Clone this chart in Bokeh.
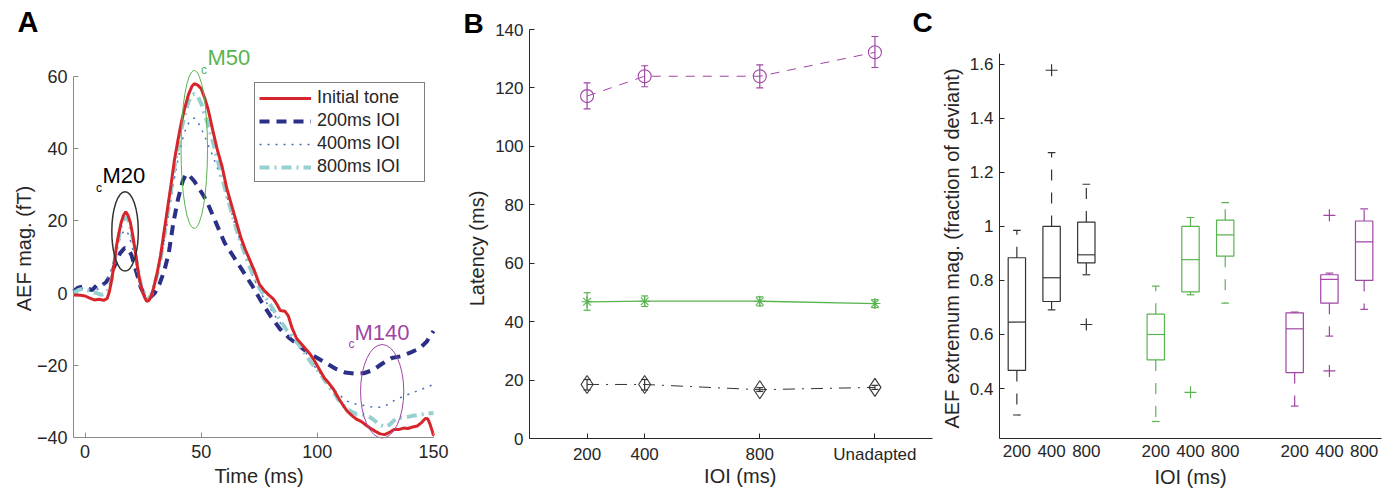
import math
from bokeh.plotting import figure
from bokeh.layouts import row
from bokeh.models import (Range1d, FixedTicker, Label, Legend, LegendItem,
                          Whisker, TeeHead, ColumnDataSource)
from bokeh.embed import file_html
from bokeh.resources import INLINE

FONT = "Liberation Sans"
TXT = "#262626"

# ---------------- Panel A data: AEF waveforms ----------------
t_initial = [-5, -2, 0, 2, 4, 6, 8, 9.5, 10.5, 11.5, 12.5, 13.5, 14.5, 15.5, 16.5, 17.5, 18.5, 19.5, 20.5, 21.5,
             22.5, 23.5, 24.5, 25.5, 26.5, 27.5, 28.5, 29.5, 31, 32.5, 34, 35.5, 37, 38.5, 40, 41.5, 43, 44.5, 46,
             47, 48.5, 50, 51.5, 53, 55, 57, 59, 61, 63, 65, 67, 69, 71, 73, 75, 77, 79, 81, 82.5, 84, 86, 87.5,
             89, 91, 93, 95, 97, 99, 101, 103, 105, 107, 109, 111, 113, 115, 117, 119, 121, 123, 125, 127, 129,
             131, 133, 135, 137, 139, 141, 143, 145, 146.5, 147.5, 148.5, 149.5, 150]
v_initial = [-0.5, -0.6, -0.8, -1.4, -1.9, -1.7, -2.0, -1.5, 0.5, 4, 8, 13, 16.5, 19.5, 21.5, 22.5, 21.5, 19.5, 16, 12,
             7.5, 3.5, 0.8, -1, -2.3, -2.0, -0.8, 1.5, 5.5, 10.5, 17, 23.5, 30, 37, 42.5, 47.5, 51.5, 55, 57.3,
             58, 57.6, 56.6, 54, 50.8, 45, 39.5, 35, 29, 24.5, 20, 15.5, 12, 9, 6, 2.5, 0.8, -0.5, -1.6, -3, -4.8, -5, -6.3,
             -9.5, -12.5, -14, -15.5, -17, -19, -21.3, -23.5, -25, -26.7, -29, -31, -32.8, -34, -35, -35.6, -36.6, -37.5, -38.3, -39, -39.2,
             -38.6, -37.8, -37.8, -37.4, -37.5, -37.1, -36.8, -35.8, -34.7, -34.8, -36.3, -38.3, -39.5]

t_200 = [-5, -3, -1, 1, 3, 5, 7, 9, 11, 13, 15, 17, 18.5, 20, 22, 24, 26, 28, 30, 32,
         34, 36, 38, 40, 42, 43.5, 45, 47, 49, 51, 53, 56, 60, 64, 68, 72, 76, 80, 84, 88,
         92, 96, 100, 104, 108, 112, 116, 120, 124, 128, 132, 136, 140, 144, 147, 150]
v_200 = [0.5, 1.5, 1.8, 1.2, 0.8, 2.2, 2, 3, 5, 8, 11, 12.5, 12.3, 10.5, 6, 1.5, -1, -1.2, 0, 2.5,
         6, 11, 19.5, 26, 31, 33, 32.5, 31, 29, 27, 24.5, 20, 14, 10, 6, 2, -2.5, -6.5, -10, -12.5,
         -14.5, -16.5, -18, -19.5, -21, -22, -22.3, -22.2, -21.3, -19.5, -18, -17.5, -16.5, -15.3, -13.5, -10.5]

t_400 = [-5, -3, 0, 3, 5, 7, 9, 11, 12.5, 14, 15.5, 17, 18.5, 20, 21.5, 23, 24.5, 26, 27.5, 29, 30.5, 32,
         33.5, 35, 36.5, 38, 39.5, 41, 42.5, 44, 45.5, 47, 48.5, 50, 51.5, 53,
         55, 57, 59, 61, 63, 65, 67, 69, 71, 73, 75, 77, 79, 81, 83, 85, 87, 89, 91, 93, 95, 97, 99,
         101, 103, 105, 107, 109, 111, 113, 115, 117, 119, 121, 123, 125, 127, 129, 131, 133, 135, 137,
         139, 141, 143, 145, 147, 150]
v_400 = [0.5, 1, 1.5, 1.5, 1, 1.5, 3, 6, 9.5, 13, 16, 17.5, 16.5, 13.5, 9.5, 5, 1.5, -0.8, -1.2, 0.5, 3.5, 7.5,
         12.5, 18, 24, 30, 35.5, 40, 44, 46.5, 48, 48.5, 47.5, 45.5, 43.5, 41,
         38, 34.5, 31, 27, 22.5, 18, 14, 10, 6.5, 3.5, 1, -1.5, -3.5, -5.5, -7.5, -9, -10.5, -12, -13.5, -15, -16.5, -18.5, -20.5,
         -22, -23.5, -25, -26.5, -28, -29, -30, -30.5, -30.8, -31, -31.2, -31.5, -31.6, -31.6, -31.3, -30.6, -29.8, -29.2, -28.6,
         -28.1, -27.6, -27.1, -26.6, -26.1, -25.3]

t_800 = [-5, -3, -1, 1, 3, 5, 7, 9, 10.5, 11.5, 12.5, 13.5, 14.5, 15.5, 16.5, 17.5, 18.5, 19.5, 20.5, 21.5,
         22.5, 23.5, 24.5, 25.5, 26.5, 27.5, 28.5, 29.5, 31, 32.5, 34, 35.5, 37, 38.5, 40, 41.5, 43, 44.5, 46,
         47, 48.5, 50, 51.5, 53, 55, 57, 59, 61, 63, 65, 67, 69, 71, 73, 75, 77, 79, 81, 83, 85, 87, 89, 91, 93,
         95, 97, 99, 101, 103, 105, 107, 109, 111, 113, 115, 117, 119, 121, 123, 125, 127, 129, 131, 133, 135,
         137, 139, 141, 143, 145, 147, 150]
v_800 = [0, 0.8, 1.2, 0.8, 0.2, 0, -0.5, 0, 1.5, 4, 8, 12, 15.5, 18.5, 20.3, 21, 20.3, 18.5, 15, 11.5,
         7.5, 3.8, 1, -0.5, -1.5, -1.5, -0.5, 1.5, 5, 9.5, 15.5, 22, 28.5, 35, 40.5, 45.5, 49.5, 53, 54.8,
         55.2, 54.5, 52.5, 49.5, 46.5, 42, 37, 32, 27, 22.5, 18, 14, 10.5, 7, 4, 1.5, -0.5, -2.5, -4.5, -6.5, -8.5, -10.5, -12, -13.5, -15,
         -17, -19, -20.5, -22, -24, -26, -27.5, -29.5, -31, -32.2, -33, -33.5, -33.5, -34, -34.5, -35.5, -36.5, -37, -36.5, -35.3, -34.5,
         -34.5, -34.3, -34, -33.8, -33.6, -33.4, -33.2]

# peak annotation ellipses (centre time, centre value, width ms, height fT)
peak_names = ["M20", "M50", "M140"]
peak_t = [17.2, 47.0, 127.9]
peak_v = [17.1, 39.8, -27.2]
peak_w = [11.4, 11.4, 18.6]
peak_h = [22.0, 43.7, 25.9]

# ---------------- Panel B data: latencies ----------------
ioi_x = [200, 400, 800, 1200]
ioi_labels = ["200", "400", "800", "Unadapted"]
lat_m140 = [117.2, 124.0, 124.0, 132.2]
lat_m140_lo = [112.8, 120.4, 120.0, 127.0]
lat_m140_hi = [121.7, 127.6, 127.9, 137.6]
lat_m50 = [46.8, 47.0, 47.0, 46.2]
lat_m50_lo = [43.9, 45.2, 45.4, 44.8]
lat_m50_hi = [49.9, 48.8, 48.5, 47.5]
lat_m20 = [18.5, 18.5, 16.7, 17.5]
lat_m20_lo = [16.6, 16.6, 16.1, 16.8]
lat_m20_hi = [20.2, 20.2, 17.4, 18.2]

# ---------------- Panel C data: box plots ----------------
box_x = [1, 2, 3, 5, 6, 7, 9, 10, 11]
box_labels = ["200", "400", "800", "200", "400", "800", "200", "400", "800"]
box_group = ["M20", "M20", "M20", "M50", "M50", "M50", "M140", "M140", "M140"]
box_q1 = [0.467, 0.722, 0.865, 0.506, 0.758, 0.890, 0.459, 0.716, 0.800]
box_med = [0.646, 0.810, 0.895, 0.600, 0.877, 0.969, 0.621, 0.804, 0.943]
box_q3 = [0.884, 1.000, 1.016, 0.675, 1.000, 1.023, 0.680, 0.821, 1.020]
box_lo = [0.302, 0.691, 0.821, 0.278, 0.747, 0.716, 0.335, 0.594, 0.693]
box_hi = [0.985, 1.273, 1.156, 0.779, 1.033, 1.088, 0.683, 0.827, 1.065]
out_x = [2, 3, 6, 10, 10]
out_y = [1.578, 0.637, 0.386, 1.041, 0.465]
out_group = ["M20", "M20", "M50", "M140", "M140"]

# ---------------- styles ----------------
RED = "#d7262b"
NAVY = "#2b2f86"
DOTBLUE = "#4a6cbc"
CYAN = "#96d0d0"
GREEN = "#58b44f"
PURPLE = "#a045a4"
DARK = "#333333"
group_color = {"M20": DARK, "M50": GREEN, "M140": PURPLE}

H = 488  # canvas height (page has no margin)


class Panel:
    """Pixel calibration of a panel: page pixel <-> data value (frame covers whole canvas)."""

    def __init__(self, fig_left, fig_width, ax_left_px, ax_bottom_px, x0, y0, sx, sy):
        self.fig_left, self.fig_width = fig_left, fig_width
        self.ax_left_px, self.ax_bottom_px = ax_left_px, ax_bottom_px
        self.x0, self.y0, self.sx, self.sy = x0, y0, sx, sy

    def xy(self, px, py):
        return (self.x0 + (px - self.ax_left_px) / self.sx,
                self.y0 + (self.ax_bottom_px - py) / self.sy)

    def x_range(self):
        a, _ = self.xy(self.fig_left, 0)
        b, _ = self.xy(self.fig_left + self.fig_width, 0)
        return Range1d(a, b)

    def y_range(self):
        _, a = self.xy(0, H)
        _, b = self.xy(0, 0)
        return Range1d(a, b)

    def figure(self):
        return figure(width=self.fig_width, height=H, output_backend="svg", toolbar_location=None,
                      x_range=self.x_range(), y_range=self.y_range(), min_border=0)


def add_text(p, xy, text, size, color=TXT, align="left", angle=0.0, bold=False):
    # xy is the middle of the text's cap height
    x, y = xy
    p.add_layout(Label(x=x, y=y, text=text, text_font=FONT, text_font_size=f"{size}px",
                       text_color=color, text_align=align, text_baseline="middle", angle=angle,
                       text_font_style="bold" if bold else "normal"))


def style_axes(p, tick_size, xb, yb, axis_color=TXT):
    p.grid.visible = False
    p.outline_line_color = None
    p.background_fill_color = "white"
    p.border_fill_color = "white"
    xa, ya = p.xaxis[0], p.yaxis[0]
    xa.bounds, ya.bounds = xb, yb
    xa.fixed_location = yb[0]
    ya.fixed_location = xb[0]
    for ax in (xa, ya):
        ax.axis_line_color = axis_color
        ax.major_tick_line_color = axis_color
        ax.minor_tick_line_color = None
        ax.major_tick_in = 5
        ax.major_tick_out = 0
        ax.major_label_text_font = FONT
        ax.major_label_text_font_size = f"{tick_size}px"
        ax.major_label_text_color = TXT
        ax.major_label_standoff = 6


# ================= Panel A =================
A = Panel(0, 460, 73, 437, -5, -40, 360 / 155, 3.61)
pA = A.figure()
style_axes(pA, 18, (-5, 150), (-40, 60), axis_color="#8a8a8a")
pA.yaxis[0].ticker = FixedTicker(ticks=[-40, -20, 0, 20, 40, 60])
pA.yaxis[0].major_label_overrides = {-40: "\u221240", -20: "\u221220", 0: "0", 20: "20", 40: "40", 60: "60"}
pA.xaxis[0].ticker = FixedTicker(ticks=[0, 50, 100, 150])
pA.xaxis[0].major_label_standoff = 7

r200 = pA.line(t_200, v_200, line_color=NAVY, line_width=4, line_dash="10 7")
r400 = pA.line(t_400, v_400, line_color=DOTBLUE, line_width=1.5, line_dash="2 6")
r800 = pA.line(t_800, v_800, line_color=CYAN, line_width=4, line_dash="10 5 2 5")
rinit = pA.line(t_initial, v_initial, line_color=RED, line_width=3)

ell_colors = [DARK, GREEN, PURPLE]
ell_widths = [1.5, 1, 1]
pA.ellipse(x=peak_t, y=peak_v, width=peak_w, height=peak_h, fill_color=None,
           line_color=ell_colors, line_width=ell_widths)

legend = Legend(items=[LegendItem(label="Initial tone", renderers=[rinit]),
                       LegendItem(label="200ms IOI", renderers=[r200]),
                       LegendItem(label="400ms IOI", renderers=[r400]),
                       LegendItem(label="800ms IOI", renderers=[r800])],
                location=(254 - A.fig_left, H - 182), padding=4, spacing=2, margin=0,
                glyph_width=52, glyph_height=20, label_height=20, label_width=103, label_standoff=6,
                label_text_font=FONT, label_text_font_size="18px", label_text_color=TXT,
                border_line_color="black", border_line_width=1, background_fill_color="white",
                background_fill_alpha=1)
pA.add_layout(legend)

add_text(pA, A.xy(17, 21), "A", 29, color="black", bold=True)
add_text(pA, A.xy(23, 248), "AEF mag. (fT)", 20, align="center", angle=math.pi / 2)
add_text(pA, A.xy(258.5, 475.5), "Time (ms)", 20, align="center")
add_text(pA, A.xy(95.5, 187.5), "c", 12, color="black")
add_text(pA, A.xy(102, 175), "M20", 22, color="black")
add_text(pA, A.xy(200.5, 69.5), "c", 12, color=GREEN)
add_text(pA, A.xy(207, 56.5), "M50", 22, color=GREEN)
add_text(pA, A.xy(348, 343), "c", 12, color=PURPLE)
add_text(pA, A.xy(354, 331.5), "M140", 22, color=PURPLE)

# ================= Panel B =================
B = Panel(460, 474, 529, 438, 0, 0, 403 / 1400, 409 / 140)
pB = B.figure()
style_axes(pB, 17, (0, 1400), (0, 140))
pB.xaxis[0].ticker = FixedTicker(ticks=ioi_x)
pB.xaxis[0].major_label_overrides = {x: lab for x, lab in zip(ioi_x, ioi_labels)}
pB.yaxis[0].ticker = FixedTicker(ticks=[0, 20, 40, 60, 80, 100, 120, 140])

series_B = [
    (lat_m140, lat_m140_lo, lat_m140_hi, PURPLE, "9 8", "circle", 13, 1.0),
    (lat_m50, lat_m50_lo, lat_m50_hi, GREEN, "solid", "asterisk", 11, 1.3),
    (lat_m20, lat_m20_lo, lat_m20_hi, DARK, "12 7 2 7", "diamond", 18, 1.0),
]
for vals, lo, hi, col, dash, marker, msize, lw in series_B:
    pB.line(ioi_x, vals, line_color=col, line_width=lw, line_dash=dash)
    src = ColumnDataSource(dict(x=ioi_x, lo=lo, hi=hi))
    pB.add_layout(Whisker(base="x", upper="hi", lower="lo", source=src, line_color=col, line_width=1.2,
                          upper_head=TeeHead(size=7, line_color=col, line_width=1.2),
                          lower_head=TeeHead(size=7, line_color=col, line_width=1.2)))
    pB.scatter(ioi_x, vals, marker=marker, size=msize, fill_color=None, line_color=col, line_width=1.1)

add_text(pB, B.xy(463, 23), "B", 28, color="black", bold=True)
add_text(pB, B.xy(912, 22), "C", 28, color="black", bold=True)
add_text(pB, B.xy(476, 248), "Latency (ms)", 20, align="center", angle=math.pi / 2)
add_text(pB, B.xy(739.7, 475.5), "IOI (ms)", 20, align="center")

# ================= Panel C =================
C = Panel(934, 457, 999, 438, 0.5, 0.215, 382 / 11, 385 / (1.64 - 0.215))
pC = C.figure()
style_axes(pC, 17, (0.5, 11.5), (0.215, 1.64))
pC.xaxis[0].ticker = FixedTicker(ticks=box_x)
pC.xaxis[0].major_label_overrides = {x: lab for x, lab in zip(box_x, box_labels)}
pC.xaxis[0].major_tick_in = 0
c_ticks = [0.4, 0.6, 0.8, 1.0, 1.2, 1.4, 1.6]
pC.yaxis[0].ticker = FixedTicker(ticks=c_ticks)
pC.yaxis[0].major_label_overrides = {t: (f"{t:g}") for t in c_ticks}

box_cols = [group_color[g] for g in box_group]
half_box = 0.25
half_cap = 0.11
pC.vbar(x=box_x, width=2 * half_box, top=box_q3, bottom=box_q1, fill_color=None,
        line_color=box_cols, line_width=1.2)
pC.segment(x0=[x - half_box for x in box_x], y0=box_med, x1=[x + half_box for x in box_x], y1=box_med,
           line_color=box_cols, line_width=1.2)
pC.segment(x0=box_x, y0=box_q3, x1=box_x, y1=box_hi, line_color=box_cols, line_width=1.2, line_dash="11 12")
pC.segment(x0=box_x, y0=box_q1, x1=box_x, y1=box_lo, line_color=box_cols, line_width=1.2, line_dash="11 12")
pC.segment(x0=[x - half_cap for x in box_x], y0=box_hi, x1=[x + half_cap for x in box_x], y1=box_hi,
           line_color=box_cols, line_width=1.2)
pC.segment(x0=[x - half_cap for x in box_x], y0=box_lo, x1=[x + half_cap for x in box_x], y1=box_lo,
           line_color=box_cols, line_width=1.2)
pC.scatter(out_x, out_y, marker="cross", size=12, line_color=[group_color[g] for g in out_group], line_width=1.2)

add_text(pC, C.xy(951.5, 248), "AEF extremum mag. (fraction of deviant)", 20, align="center",
         angle=math.pi / 2)
add_text(pC, C.xy(1190, 476), "IOI (ms)", 20, align="center")

layout = row(pA, pB, pC, spacing=0)
open("out.html", "w").write(file_html(layout, INLINE))
